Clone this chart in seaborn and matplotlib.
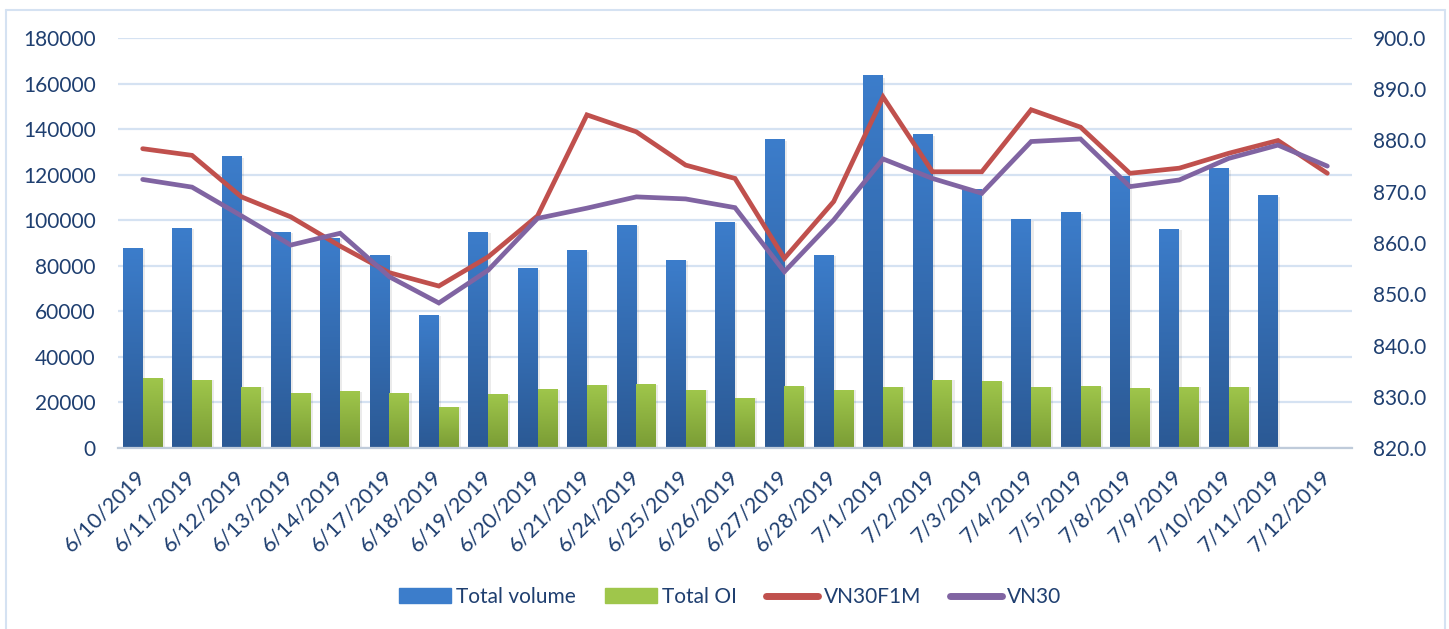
import numpy as np
import pandas as pd
import matplotlib
matplotlib.use("Agg")
import matplotlib.pyplot as plt
import matplotlib.patches as mpatches
from matplotlib.lines import Line2D
from matplotlib.colors import LinearSegmentedColormap
import seaborn as sns

dates = ["6/10/2019", "6/11/2019", "6/12/2019", "6/13/2019", "6/14/2019",
         "6/17/2019", "6/18/2019", "6/19/2019", "6/20/2019", "6/21/2019",
         "6/24/2019", "6/25/2019", "6/26/2019", "6/27/2019", "6/28/2019",
         "7/1/2019", "7/2/2019", "7/3/2019", "7/4/2019", "7/5/2019",
         "7/8/2019", "7/9/2019", "7/10/2019", "7/11/2019", "7/12/2019"]

total_volume = [87700, 96500, 127800, 94800, 92000, 84700, 58300, 94800,
                78600, 86500, 97900, 82500, 99200, 135300, 84700, 163400,
                137500, 113500, 100100, 103200, 119000, 96100, 122500,
                110700, np.nan]

total_oi = [30600, 29800, 26700, 24100, 24900, 24100, 17900, 23600, 25800,
            27600, 28000, 25400, 21900, 27100, 25400, 26700, 29800, 29300,
            26700, 27100, 26200, 26700, 26700, np.nan, np.nan]

vn30f1m = [878.4, 877.1, 869.0, 865.1, 859.4, 854.2, 851.6, 857.3, 865.3,
           885.0, 881.7, 875.2, 872.6, 857.0, 868.1, 888.5, 873.9, 873.9,
           886.0, 882.6, 873.6, 874.6, 877.5, 880.0, 873.6]

vn30 = [872.4, 870.9, 865.3, 859.6, 861.9, 853.4, 848.3, 854.7, 864.8,
        866.8, 869.0, 868.6, 866.9, 854.4, 864.5, 876.4, 872.6, 869.7,
        879.8, 880.3, 871.0, 872.3, 876.5, 879.1, 875.0]

TEXT = "#1F3F70"
GRID = "#D5E2F2"
BLUE_TOP, BLUE_BOT = "#3C7DCB", "#2B5994"
GREEN_TOP, GREEN_BOT = "#9FC64B", "#7A9C35"
RED = "#C0504D"
PURPLE = "#8064A2"
FS = 15

bars = pd.DataFrame({
    "date": dates * 2,
    "series": ["Total volume"] * len(dates) + ["Total OI"] * len(dates),
    "value": total_volume + total_oi,
})

lines = pd.DataFrame({"pos": np.arange(len(dates)), "VN30F1M": vn30f1m, "VN30": vn30})

sns.set_style("white")
plt.rcParams["font.family"] = ["Lato", "DejaVu Sans"]

fig = plt.figure(figsize=(14.49, 6.29), dpi=100)
ax = fig.add_axes([118 / 1449, 1 - 448 / 629, (1352 - 118) / 1449, 410 / 629])

sns.barplot(data=bars, x="date", y="value", hue="series", order=dates,
            hue_order=["Total volume", "Total OI"], width=0.8, gap=0,
            palette=[BLUE_TOP, GREEN_TOP], saturation=1, legend=False, ax=ax)

# gradient fill for bars
cmaps = {
    0: LinearSegmentedColormap.from_list("b", [BLUE_BOT, BLUE_TOP]),
    1: LinearSegmentedColormap.from_list("g", [GREEN_BOT, GREEN_TOP]),
}
grad = np.linspace(0, 1, 256).reshape(-1, 1)
for i, cont in enumerate(ax.containers):
    for p in cont.patches:
        h = p.get_height()
        if not np.isfinite(h) or h <= 0:
            continue
        x0 = p.get_x()
        w = p.get_width()
        # soft shadow on the right
        ax.add_patch(mpatches.Rectangle((x0 + w, 0), w * 0.12, h * 0.995,
                                        color="#000000", alpha=0.08, lw=0, zorder=1.5))
        ax.imshow(grad, extent=[x0, x0 + w, 0, h], origin="lower", aspect="auto",
                  cmap=cmaps[i], zorder=2)
        p.set_alpha(0)

ax.set_xlim(-0.5, len(dates) - 0.5)
ax.set_ylim(0, 180000)
ax.set_yticks(np.arange(0, 180001, 20000))
ax.yaxis.grid(True, color=GRID, lw=1.6)
ax.set_axisbelow(True)
ax.set_xlabel("")
ax.set_ylabel("")
for s in ["top", "right", "left"]:
    ax.spines[s].set_visible(False)
ax.spines["bottom"].set_color("#BFCBDA")
ax.spines["bottom"].set_linewidth(1.6)
ax.tick_params(axis="y", length=0, pad=16, labelsize=FS, labelcolor=TEXT)
ax.tick_params(axis="x", length=0, pad=18, labelsize=15.5, labelcolor=TEXT)
plt.setp(ax.get_xticklabels(), rotation=45, ha="right", va="center",
         rotation_mode="anchor")

ax2 = ax.twinx()
sns.lineplot(data=lines, x="pos", y="VN30F1M", color=RED, lw=3.4, ax=ax2,
             solid_joinstyle="miter", zorder=4)
sns.lineplot(data=lines, x="pos", y="VN30", color=PURPLE, lw=3.4, ax=ax2,
             solid_joinstyle="miter", zorder=4)
ax2.set_ylim(820, 900)
ax2.set_yticks(np.arange(820, 901, 10))
ax2.set_yticklabels([f"{v:.1f}" for v in np.arange(820, 901, 10)])
ax2.set_xlim(-0.5, len(dates) - 0.5)
ax2.set_xlabel("")
ax2.set_ylabel("")
for s in ["top", "right", "left", "bottom"]:
    ax2.spines[s].set_visible(False)
ax2.tick_params(axis="y", length=0, pad=15, labelsize=FS, labelcolor=TEXT)
ax2.grid(False)

handles = [
    mpatches.Patch(color=BLUE_TOP, label="Total volume"),
    mpatches.Patch(color=GREEN_TOP, label="Total OI"),
    Line2D([0], [0], color=RED, lw=5, solid_capstyle="round", label="VN30F1M"),
    Line2D([0], [0], color=PURPLE, lw=5, solid_capstyle="round", label="VN30"),
]
ax.legend(handles=handles, loc="center", bbox_to_anchor=(0.496, -0.363), ncol=4,
          frameon=False, fontsize=FS, labelcolor=TEXT, handlelength=2.5,
          handleheight=0.7, columnspacing=1.4, handletextpad=0.25)

# outer chart border
for xs, ys in [((6, 6), (10, 629)), ((6, 1445), (10, 10)), ((1445, 1445), (10, 629))]:
    fig.add_artist(Line2D([x / 1449 for x in xs], [1 - y / 629 for y in ys],
                          color="#D5E2F2", lw=1.5))

fig.savefig("out.png", dpi=100)
